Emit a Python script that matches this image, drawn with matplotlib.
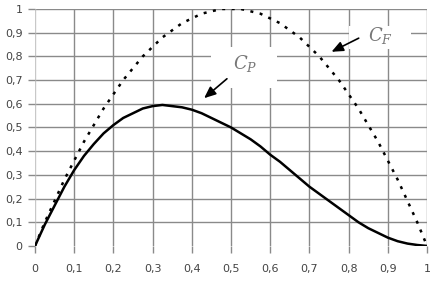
import matplotlib.pyplot as plt

# values
a = [i * 0.025 for i in range(41)]
c_p = [0, 0.09, 0.17, 0.25, 0.32, 0.38, 0.43, 0.475, 0.51, 0.54,
       0.56, 0.58, 0.59, 0.595, 0.59, 0.585, 0.575, 0.56, 0.54, 0.52,
       0.50, 0.475, 0.45, 0.42, 0.385, 0.355, 0.32, 0.285, 0.25, 0.22,
       0.19, 0.16, 0.13, 0.10, 0.075, 0.055, 0.035, 0.02, 0.01, 0.004, 0]
c_f = [0, 0.10, 0.19, 0.28, 0.36, 0.44, 0.51, 0.58, 0.64, 0.70,
       0.75, 0.80, 0.84, 0.88, 0.91, 0.94, 0.96, 0.98, 0.99, 1.0,
       1.0, 1.0, 0.99, 0.98, 0.96, 0.94, 0.91, 0.88, 0.84, 0.80,
       0.75, 0.70, 0.64, 0.58, 0.51, 0.44, 0.36, 0.28, 0.19, 0.10, 0]
ticks = [i / 10 for i in range(11)]
tick_labels = ['0', '0,1', '0,2', '0,3', '0,4', '0,5', '0,6', '0,7', '0,8', '0,9', '1']

plt.rcParams['mathtext.fontset'] = 'dejavuserif'

fig = plt.figure(figsize=(4.34, 2.89), dpi=100)
ax = fig.add_axes([0.0806, 0.149, 0.9034, 0.82])

# grid (excel-like, gray lines that stick out a little as ticks)
for t in ticks[1:]:
    ax.axhline(t, color='#8a8a8a', lw=1.0, zorder=1)
for t in ticks:
    ax.axvline(t, color='#c8c8c8' if t == 0 else '#8a8a8a', lw=1.0, zorder=1)

ax.plot(a, c_p, color='black', lw=1.8, zorder=3)
ax.plot(a, c_f, color='black', lw=1.8, ls=(0, (1.2, 2.6)), zorder=3)

ax.set_xlim(0, 1)
ax.set_ylim(0, 1)
ax.set_xticks(ticks)
ax.set_xticklabels(tick_labels)
ax.set_yticks(ticks)
ax.set_yticklabels(tick_labels)
ax.tick_params(axis='both', colors='#8a8a8a', labelcolor='#444444', labelsize=8, length=5, width=1.0)
ax.tick_params(axis='x', pad=8)
ax.tick_params(axis='y', pad=4)
for s in ax.spines.values():
    s.set_visible(False)

# white patches behind the labels
ax.fill_between([0.45, 0.617], 0.667, 0.84, color='white', zorder=2, lw=0)
ax.fill_between([0.80, 0.96], 0.83, 0.93, color='white', zorder=2, lw=0)

ax.text(0.535, 0.77, r'$C_P$', fontsize=13, color='#777777', ha='center', va='center', zorder=4)
ax.text(0.88, 0.89, r'$C_F$', fontsize=13, color='#777777', ha='center', va='center', zorder=4)

ax.annotate('', xy=(0.426, 0.616), xytext=(0.495, 0.713), zorder=4,
            arrowprops=dict(arrowstyle='-|>,head_length=0.7,head_width=0.3', color='black', lw=1.2))
ax.annotate('', xy=(0.75, 0.814), xytext=(0.832, 0.882), zorder=4,
            arrowprops=dict(arrowstyle='-|>,head_length=0.7,head_width=0.3', color='black', lw=1.2))

fig.savefig('out.png', dpi=100)
